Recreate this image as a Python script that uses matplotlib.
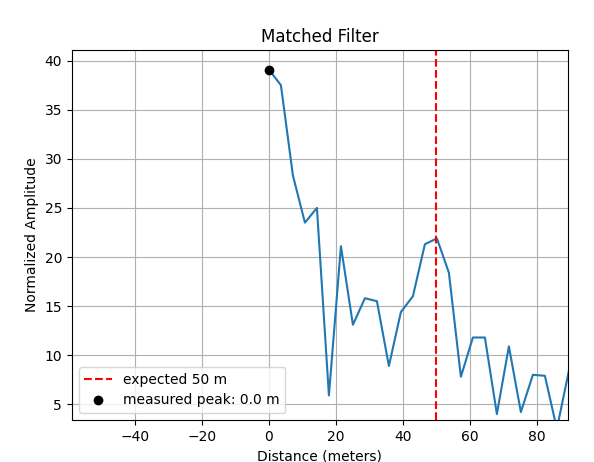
import numpy as np
import matplotlib
matplotlib.use("Agg")
import matplotlib.pyplot as plt

step = 3.58
amplitude = [39.1, 37.5, 28.3, 23.5, 25.0, 5.9, 21.1, 13.1, 15.8, 15.5, 8.9,
             14.4, 16.0, 21.3, 21.9, 18.4, 7.8, 11.8, 11.8, 4.0, 10.9, 4.2,
             8.0, 7.9, 2.5, 8.4]
distance = np.arange(len(amplitude)) * step
expected = 50
peak_x, peak_y = 0.0, 39.1

fig = plt.figure(figsize=(5.94, 4.62), dpi=100)
plt.subplots_adjust(left=0.121, right=0.956, top=0.892, bottom=0.091)
plt.plot(distance, amplitude)
plt.axvline(expected, color="r", linestyle="--", label="expected 50 m")
plt.plot(peak_x, peak_y, "ko", label="measured peak: 0.0 m")
plt.xlim(-58.8, 89.2)
plt.ylim(3.4, 41.1)
plt.grid(True)
plt.legend(loc="lower left")
plt.title("Matched Filter")
plt.xlabel("Distance (meters)")
plt.ylabel("Normalized Amplitude")
plt.savefig("out.png")
